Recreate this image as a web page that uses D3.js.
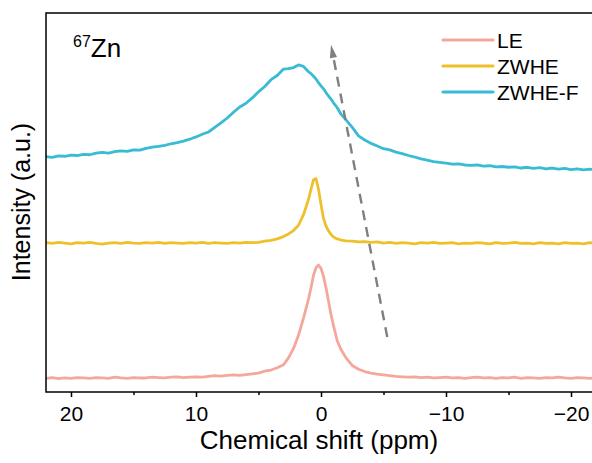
<!DOCTYPE html>
<html>
<head>
<meta charset="utf-8">
<script src="https://cdn.jsdelivr.net/npm/d3@7"></script>
<style>
  body { margin: 0; background: #fff; }
  svg { display: block; font-family: "Liberation Sans", Arial, sans-serif; }
</style>
</head>
<body>
<div id="chart"></div>
<script>
//Chemical shift grid (ppm), denser around the peaks
var shifts = [
  22, 21.5, 21, 20.5, 20, 19.5, 19, 18.5, 18, 17.5, 17, 16.5, 16, 15.5, 15, 14.5, 14, 13.5,
  13, 12.5, 12, 11.5, 11, 10.5, 10, 9.5, 9, 8.5, 8, 7.5, 7, 6.5, 6, 5.5, 5,
  4.5, 4, 3.5, 3, 2.6, 2.2, 1.8, 1.4, 1.0, 0.8, 0.6, 0.4, 0.2, 0, -0.2, -0.4, -0.6, -0.8,
  -1.0, -1.3, -1.6, -2, -2.5, -3, -3.5, -4, -4.5,
  -5, -5.5, -6, -6.5, -7, -7.5, -8, -8.5, -9, -9.5, -10, -10.5, -11, -11.5, -12, -12.5,
  -13, -13.5, -14, -14.5, -15, -15.5, -16, -16.5, -17, -17.5, -18, -18.5, -19, -19.5,
  -20, -20.5, -21, -21.5, -22
];

//Intensities (a.u., stacked offsets included)
var leValues = [
  3.6, 3.8, 3.5, 3.7, 3.6, 3.8, 3.7, 3.6, 3.8, 3.7, 3.6, 3.9, 3.7, 3.6, 3.8, 3.7, 3.7, 3.9,
  3.8, 3.7, 3.9, 4.0, 3.8, 3.9, 4.0, 3.9, 4.1, 4.3, 4.2, 4.4, 4.5, 4.4, 4.6, 4.8, 5.0,
  5.5, 5.8, 6.4, 7.2, 9.0, 11.5, 15.0, 19.5, 24.5, 27.5, 30.8, 32.8, 33.5, 32.6, 30.5, 27.5, 24.0, 20.4,
  17.5, 13.5, 11.2, 9.0, 7.0, 6.0, 5.4, 5.0, 4.7,
  4.5, 4.3, 4.1, 4.0, 3.9, 4.0, 3.8, 3.9, 3.7, 3.8, 3.9, 3.7, 3.8, 3.6, 3.8, 3.9,
  3.7, 3.8, 3.6, 3.8, 3.7, 3.9, 3.6, 3.8, 3.7, 3.6, 3.8, 3.7, 3.9, 3.7,
  3.6, 3.8, 3.7, 3.6, 3.7
];

var zwheValues = [
  39.4, 39.2, 39.5, 39.3, 39.1, 39.4, 39.3, 39.5, 39.2, 39.0, 39.3, 39.4, 39.2, 39.5, 39.3, 39.2, 39.4, 39.3,
  39.5, 39.2, 39.4, 39.3, 39.2, 39.4, 39.3, 39.5, 39.2, 39.4, 39.3, 39.2, 39.4, 39.3, 39.5, 39.4, 39.5,
  39.8, 40.0, 40.4, 41.0, 41.7, 42.6, 44.0, 46.8, 50.8, 53.5, 56.0, 56.3, 53.5, 49.5, 45.8, 43.8, 42.5, 41.6,
  40.9, 40.4, 40.1, 39.9, 39.8, 39.6, 39.7, 39.5, 39.6,
  39.3, 39.5, 39.2, 39.4, 39.3, 39.1, 39.4, 39.3, 39.5, 39.2, 39.3, 39.4, 39.1, 39.3, 39.2, 39.4,
  39.3, 39.1, 39.4, 39.2, 39.3, 39.5, 39.2, 39.3, 39.1, 39.4, 39.2, 39.3, 39.1, 39.4,
  39.2, 39.3, 39.1, 39.4, 39.2
];

var zwhefValues = [
  62.1, 61.9, 62.3, 62.2, 62.5, 62.4, 62.7, 62.6, 63.0, 63.2, 63.0, 63.4, 63.6, 63.5, 63.9, 63.8, 64.3, 64.6,
  64.8, 65.1, 65.5, 65.8, 66.2, 66.7, 67.3, 68.0, 68.6, 69.8, 71.0, 72.3, 73.8, 75.2, 76.2, 77.6, 79.2,
  80.6, 82.4, 83.5, 85.2, 85.3, 85.6, 86.3, 85.9, 84.5, 84.0, 83.3, 82.6, 81.6, 80.8, 80.0, 79.0, 78.1, 77.3,
  76.3, 75.0, 73.3, 71.8, 69.8, 67.6, 66.5, 65.6, 64.9,
  64.2, 63.9, 63.3, 62.9, 62.4, 62.0, 61.5, 61.2, 60.8, 60.6, 60.4, 60.1, 60.2, 59.9, 59.8, 59.9,
  59.6, 59.7, 59.4, 59.5, 59.3, 59.4, 59.1, 59.3, 59.0, 59.2, 58.9, 59.1, 58.8, 59.0,
  58.7, 58.9, 58.6, 58.8, 58.6
];

var seriesNames = ["LE", "ZWHE", "ZWHE-F"];
var seriesColors = ["#f3a89b", "#eec12c", "#38bbd3"];
var majorTicks = [20, 10, 0, -10, -20];
var minorTicks = [15, 5, -5, -15];

//Arrow: [shift, intensity] from bottom to tip
var arrowFrom = [-5.3, 14.5];
var arrowTo = [-0.8, 91.6];

var drawChart = function(){

//Width and height
var w = 592;
var h = 463;
var padLeft = 46, padRight = 596, padTop = 13, padBottom = 392;

//Scales
var xScale = d3.scaleLinear().domain([22, -22]).range([padLeft, padRight]);
var yScale = d3.scaleLinear().domain([0, 100]).range([padBottom, padTop]);

var svg = d3.select("#chart")
  .append("svg")
  .attr("width", w)
  .attr("height", h);

var data = [leValues, zwheValues, zwhefValues];

var line = d3.line()
  .x(function(d, i) { return xScale(shifts[i]); })
  .y(function(d) { return yScale(d); });

//Curves
svg.append("g")
  .selectAll("path")
  .data(data)
  .enter()
  .append("path")
  .attr("d", line)
  .attr("fill", "none")
  .attr("stroke", function(d, i) { return seriesColors[i]; })
  .attr("stroke-width", 2.8)
  .attr("stroke-linejoin", "round");

//Dashed arrow
var x1 = xScale(arrowFrom[0]), y1 = yScale(arrowFrom[1]);
var x2 = xScale(arrowTo[0]), y2 = yScale(arrowTo[1]);
var len = Math.sqrt((x2 - x1) * (x2 - x1) + (y2 - y1) * (y2 - y1));
var ux = (x2 - x1) / len, uy = (y2 - y1) / len;
var headLen = 13, headHalf = 3.6;
var bx = x2 - ux * headLen, by = y2 - uy * headLen;

svg.append("line")
  .attr("x1", x1).attr("y1", y1)
  .attr("x2", bx).attr("y2", by)
  .attr("stroke", "#7f7f7f")
  .attr("stroke-width", 2.4)
  .attr("stroke-dasharray", "10,7");

svg.append("path")
  .attr("d", "M" + x2 + "," + y2 +
    "L" + (bx - uy * headHalf) + "," + (by + ux * headHalf) +
    "L" + (bx + uy * headHalf) + "," + (by - ux * headHalf) + "Z")
  .attr("fill", "#7f7f7f");

//Frame (right side falls outside the picture)
svg.append("rect")
  .attr("x", padLeft).attr("y", padTop)
  .attr("width", padRight - padLeft).attr("height", padBottom - padTop)
  .attr("fill", "none")
  .attr("stroke", "#000")
  .attr("stroke-width", 1.5);

//Axes
var xAxis = d3.axisBottom(xScale)
  .tickValues(majorTicks)
  .tickSize(5)
  .tickPadding(9.5);

var xMinor = d3.axisBottom(xScale)
  .tickValues(minorTicks)
  .tickSize(3)
  .tickFormat("");

var gx = svg.append("g")
  .attr("transform", "translate(0," + padBottom + ")")
  .call(xAxis);
gx.select(".domain").remove();
gx.selectAll("line").attr("stroke-width", 1.5);
gx.selectAll("text")
  .attr("font-size", 21)
  .attr("font-family", "Liberation Sans, Arial, sans-serif")
  .attr("fill", "#000");

var gm = svg.append("g")
  .attr("transform", "translate(0," + padBottom + ")")
  .call(xMinor);
gm.select(".domain").remove();
gm.selectAll("line").attr("stroke-width", 1.5);

//Axis titles
svg.append("text")
  .attr("x", 319)
  .attr("y", 449)
  .attr("text-anchor", "middle")
  .attr("font-size", 26)
  .text("Chemical shift (ppm)");

svg.append("text")
  .attr("transform", "translate(30,202) rotate(-90)")
  .attr("text-anchor", "middle")
  .attr("font-size", 25)
  .text("Intensity (a.u.)");

//Nucleus label
var nuc = svg.append("text")
  .attr("x", 73)
  .attr("y", 57);
nuc.append("tspan")
  .attr("font-size", 16)
  .attr("dy", -10)
  .text("67");
nuc.append("tspan")
  .attr("font-size", 26)
  .attr("dy", 10)
  .text("Zn");

//Legend
var legend = svg.append("g")
  .selectAll("g")
  .data(seriesNames)
  .enter()
  .append("g")
  .attr("transform", function(d, i) { return "translate(443," + (40 + i * 26) + ")"; });

legend.append("line")
  .attr("x1", 0).attr("x2", 50)
  .attr("y1", 0).attr("y2", 0)
  .attr("stroke", function(d, i) { return seriesColors[i]; })
  .attr("stroke-width", 3.2)
  .attr("stroke-linecap", "round");

legend.append("text")
  .attr("x", 54)
  .attr("y", 7.5)
  .attr("font-size", 21)
  .text(function(d) { return d; });
}

drawChart();
</script>
</body>
</html>
